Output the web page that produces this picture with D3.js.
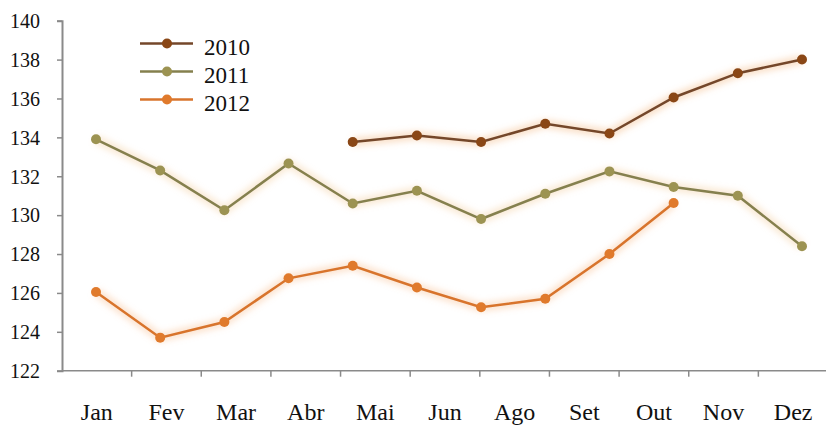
<!DOCTYPE html>
<html>
<head>
<meta charset="utf-8">
<script src="https://cdn.jsdelivr.net/npm/d3@7/dist/d3.min.js"></script>
<style>
  html, body { margin: 0; padding: 0; background: #fff; }
  svg { display: block; }
  text { font-family: "Liberation Serif", "Times New Roman", serif; fill: #111; }
</style>
</head>
<body>
<svg id="chart" width="826" height="425"></svg>
<script>
// Monthly positions of the plotted values (12 months)
const months = ["Jan", "Fev", "Mar", "Abr", "Mai", "Jun", "Jul", "Ago", "Set", "Out", "Nov", "Dez"];
// Category labels printed under the axis
const tickLabels = ["Jan", "Fev", "Mar", "Abr", "Mai", "Jun", "Ago", "Set", "Out", "Nov", "Dez"];
const yTicks = [122, 124, 126, 128, 130, 132, 134, 136, 138, 140];

// Series values (null = no value for that month)
const values2010 = [null, null, null, null, 133.76, 134.1, 133.76, 134.7, 134.2, 136.05, 137.3, 138.0];
const values2011 = [133.9, 132.3, 130.25, 132.66, 130.6, 131.25, 129.8, 131.1, 132.25, 131.45, 131.0, 128.4];
const values2012 = [126.05, 123.7, 124.5, 126.75, 127.4, 126.28, 125.26, 125.7, 128.0, 130.62, null, null];
const seriesNames = ["2010", "2011", "2012"];

const series = [
  { name: seriesNames[0], values: values2010, line: "#74472a", dot: "#8a4716", glow: "#f2a866" },
  { name: seriesNames[1], values: values2011, line: "#85804e", dot: "#9c9352", glow: "#f0c489" },
  { name: seriesNames[2], values: values2012, line: "#d8742c", dot: "#e07a2c", glow: "#f7b277" }
];

const svg = d3.select("#chart");

const x = d3.scalePoint().domain(months).range([96, 802]);
const xAxisScale = d3.scaleBand().domain(tickLabels).range([62, 828]);
const y = d3.scaleLinear().domain([122, 140]).range([370.7, 20.7]);

// soft glow under each line
const defs = svg.append("defs");
const f = defs.append("filter").attr("id", "glow")
  .attr("x", "-10%").attr("y", "-30%").attr("width", "120%").attr("height", "160%");
f.append("feGaussianBlur").attr("stdDeviation", 3);

// Y axis
const yAxis = svg.append("g")
  .attr("transform", "translate(62,0)")
  .call(d3.axisLeft(y).tickValues(yTicks).tickSize(5).tickSizeOuter(5).tickPadding(17).tickFormat(d3.format("d")));
yAxis.attr("font-size", 20).attr("font-family", "Liberation Serif, serif");
yAxis.select(".domain").attr("stroke", "#8a8a8a").attr("stroke-width", 2);
yAxis.selectAll(".tick line").attr("stroke", "#8a8a8a").attr("stroke-width", 1.5);
yAxis.selectAll(".tick text").attr("font-size", 20).attr("fill", "#111").attr("dy", "0.34em");

// X axis with category ticks between labels
const xg = svg.append("g").attr("transform", `translate(0,${y(122)})`);
xg.append("line")
  .attr("x1", 62).attr("x2", 828)
  .attr("stroke", "#8a8a8a").attr("stroke-width", 1.5);
xg.selectAll("line.tk")
  .data(tickLabels)
  .join("line")
  .attr("class", "tk")
  .attr("x1", d => xAxisScale(d) + xAxisScale.bandwidth())
  .attr("x2", d => xAxisScale(d) + xAxisScale.bandwidth())
  .attr("y1", 0).attr("y2", 6)
  .attr("stroke", "#8a8a8a").attr("stroke-width", 1.5);
xg.selectAll("text")
  .data(tickLabels)
  .join("text")
  .attr("x", d => xAxisScale(d) + xAxisScale.bandwidth() / 2)
  .attr("y", 49)
  .attr("text-anchor", "middle")
  .attr("font-size", 24)
  .text(d => d);

const line = d3.line()
  .defined(d => d.v !== null)
  .x(d => x(d.m))
  .y(d => y(d.v));

series.forEach(s => {
  const pts = months.map((m, i) => ({ m, v: s.values[i] }));
  const g = svg.append("g");
  g.append("path").datum(pts)
    .attr("d", line).attr("fill", "none")
    .attr("stroke", s.glow).attr("stroke-width", 9).attr("stroke-opacity", 0.35)
    .attr("filter", "url(#glow)");
  g.append("path").datum(pts)
    .attr("d", line).attr("fill", "none")
    .attr("stroke", s.line).attr("stroke-width", 2.5);
  g.selectAll("circle").data(pts.filter(d => d.v !== null))
    .join("circle")
    .attr("cx", d => x(d.m)).attr("cy", d => y(d.v))
    .attr("r", 5)
    .attr("fill", s.dot);
});

// Legend
const legend = svg.append("g");
series.forEach((s, i) => {
  const ly = 43.5 + i * 28;
  legend.append("line").attr("x1", 140).attr("x2", 193).attr("y1", ly).attr("y2", ly)
    .attr("stroke", s.glow).attr("stroke-width", 7).attr("stroke-opacity", 0.35).attr("filter", "url(#glow)");
  legend.append("line").attr("x1", 140).attr("x2", 193).attr("y1", ly).attr("y2", ly)
    .attr("stroke", s.line).attr("stroke-width", 2.5);
  legend.append("circle").attr("cx", 167).attr("cy", ly).attr("r", 5).attr("fill", s.dot);
  legend.append("text").attr("x", 204).attr("y", ly + 11).attr("font-size", 23).text(s.name);
});
</script>
</body>
</html>
